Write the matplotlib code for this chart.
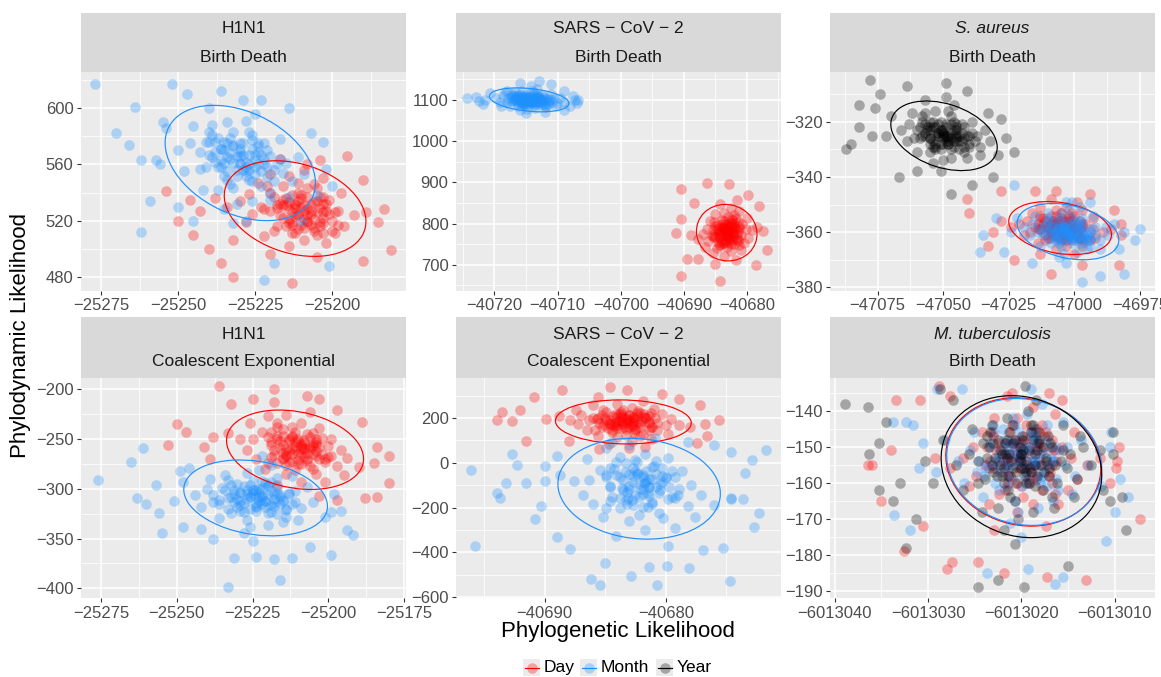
import numpy as np
import matplotlib
matplotlib.use("Agg")
import matplotlib.pyplot as plt
from matplotlib.patches import Ellipse, Rectangle

plt.rcParams['font.family'] = ['Liberation Sans', 'DejaVu Sans']

W, H, DPI = 1161, 677, 100

# ------------------------------------------------------------------ data
groups = ["Day", "Month", "Year"]
group_colors = {"Day": "#FF0000", "Month": "#1E90FF", "Year": "#000000"}
x_title = "Phylogenetic Likelihood"
y_title = "Phylodynamic Likelihood"

# ---- H1N1 / Birth Death
h1n1_bd_xticks = [-25275, -25250, -25225, -25200]
h1n1_bd_yticks = [480, 520, 560, 600]
h1n1_bd_day_x = [
    -25215, -25204, -25208, -25218, -25198, -25223, -25213, -25210, -25220, -25202,
    -25207, -25219, -25211, -25203, -25216, -25209, -25214, -25193, -25230, -25224,
    -25199, -25210, -25220, -25206, -25212, -25211, -25226, -25201, -25209, -25217,
    -25203, -25222, -25227, -25196, -25216, -25206, -25212, -25213, -25220, -25204,
    -25217, -25205, -25189, -25234, -25197, -25228, -25203, -25218, -25208, -25214,
    -25214, -25209, -25203, -25222, -25221, -25203, -25214, -25208, -25205, -25219,
    -25204, -25220, -25185, -25238, -25212, -25215, -25209, -25211, -25213, -25206,
    -25254, -25250, -25245, -25240, -25232, -25236, -25232, -25213, -25190, -25181,
    -25183, -25190, -25195, -25208, -25243, -25246,
    -25205, -25210, -25203, -25212, -25207, -25214, -25206, -25201, -25211, -25208,
    -25204, -25213, -25200, -25216, -25207, -25209, -25202, -25215, -25205, -25210,
    -25199, -25217, -25203, -25211, -25208, -25206, -25212, -25200, -25216, -25204,
    -25213, -25198, -25218, -25207, -25209, -25202, -25214, -25205, -25211, -25208]
h1n1_bd_day_y = [
    531, 519, 543, 516, 527, 530, 538, 517, 553, 504,
    527, 537, 524, 537, 522, 556, 502, 524, 534, 547,
    511, 536, 527, 533, 511, 547, 525, 535, 527, 532,
    550, 509, 539, 516, 545, 513, 532, 526, 540, 516,
    564, 494, 526, 530, 540, 519, 526, 529, 537, 518,
    552, 506, 532, 528, 545, 511, 533, 519, 543, 513,
    563, 496, 519, 536, 529, 536, 521, 540, 517, 546,
    541, 520, 510, 500, 506, 490, 480, 476, 491, 499,
    528, 549, 566, 560, 527, 535,
    526, 530, 518, 523, 532, 528, 515, 525, 534, 520,
    529, 519, 520, 531, 525, 515, 532, 516, 510, 538,
    526, 524, 522, 525, 528, 521, 531, 513, 535, 537,
    511, 517, 531, 517, 531, 527, 521, 534, 514, 524]
h1n1_bd_month_x = [
    -25229, -25235, -25218, -25241, -25227, -25232, -25223, -25238, -25214, -25245,
    -25230, -25226, -25233, -25221, -25236, -25209, -25250, -25228, -25231, -25220,
    -25239, -25224, -25234, -25225, -25243, -25216, -25237, -25222, -25231, -25228,
    -25211, -25248, -25226, -25234, -25219, -25240, -25227, -25232, -25223, -25237,
    -25205, -25254, -25225, -25235, -25217, -25242, -25230, -25231, -25222, -25238,
    -25213, -25246, -25224, -25233, -25220, -25240, -25227, -25236, -25217, -25243,
    -25202, -25257, -25229, -25232, -25230, -25225, -25235, -25221, -25239, -25215,
    -25277, -25264, -25270, -25262, -25266, -25256, -25259, -25247, -25252, -25236,
    -25223, -25214, -25207, -25203, -25201, -25222, -25262, -25250, -25245, -25210,
    -25200, -25255, -25240, -25228, -25219,
    -25227, -25232, -25225, -25234, -25229, -25236, -25228, -25223, -25233, -25230,
    -25226, -25235, -25222, -25238, -25229, -25231, -25224, -25237, -25227, -25232,
    -25220, -25240, -25225, -25233, -25230, -25228, -25234, -25221, -25239, -25226,
    -25235, -25219, -25241, -25228, -25232, -25224, -25236, -25226, -25234, -25230]
h1n1_bd_month_y = [
    556, 576, 560, 558, 583, 543, 555, 569, 537, 587,
    569, 548, 564, 570, 558, 553, 570, 591, 532, 535,
    588, 560, 549, 567, 569, 554, 542, 575, 566, 552,
    565, 555, 534, 590, 548, 576, 560, 561, 545, 579,
    538, 586, 596, 528, 578, 542, 575, 552, 564, 562,
    548, 575, 573, 546, 540, 583, 556, 571, 564, 557,
    557, 563, 606, 518, 560, 553, 570, 558, 565, 561,
    617, 601, 582, 563, 574, 560, 534, 610, 617, 612,
    606, 600, 582, 576, 488, 478, 512, 530, 520, 520,
    545, 590, 600, 520, 490,
    567, 573, 558, 565, 575, 571, 555, 567, 579, 561,
    571, 561, 560, 576, 567, 556, 575, 558, 549, 583,
    566, 567, 563, 568, 571, 562, 575, 551, 581, 581,
    552, 556, 576, 558, 574, 569, 563, 577, 555, 566]
# ellipse: centre x, centre y, half x-extent, half y-extent, tilt
h1n1_bd_day_ell = [-25212.0, 528.6, 23.0, 34.0, -0.27]
h1n1_bd_month_ell = [-25229.8, 561.0, 24.4, 41.0, -0.35]

# ---- SARS-CoV-2 / Birth Death
sars_bd_xticks = [-40720, -40710, -40700, -40690, -40680]
sars_bd_yticks = [700, 800, 900, 1000, 1100]
sars_bd_day_x = [
    -40683.8, -40681.6, -40682.4, -40684.4, -40680.2, -40685.6, -40683.4, -40682.8, -40685.0, -40681.0,
    -40682.2, -40684.6, -40683.0, -40681.4, -40684.0, -40682.6, -40683.6, -40679.2, -40687.0, -40685.8,
    -40680.4, -40682.8, -40685.0, -40682.0, -40683.2, -40683.0, -40686.2, -40680.8, -40682.6, -40684.2,
    -40681.2, -40685.4, -40686.4, -40679.8, -40684.0, -40682.0, -40683.2, -40683.4, -40684.8, -40681.4,
    -40684.2, -40681.8, -40678.4, -40687.8, -40680.0, -40686.6, -40681.4, -40684.4, -40682.3, -40683.7,
    -40683.6, -40682.6, -40681.2, -40685.4, -40685.2, -40681.2, -40683.6, -40682.4, -40681.8, -40684.7,
    -40681.6, -40685.0, -40677.4, -40688.8, -40683.3, -40683.8, -40682.5, -40683.0, -40683.4, -40682.0,
    -40690.4, -40686.3, -40682.9, -40690.4, -40691.3, -40689.5, -40690.4, -40684.2, -40676.8, -40678.1,
    -40679.8, -40688.4, -40678.6, -40687.7,
    -40682.6, -40683.6, -40682.2, -40684.0, -40683.0, -40684.4, -40682.8, -40681.8, -40683.8, -40683.2,
    -40682.4, -40684.2, -40681.6, -40684.8, -40683.0, -40683.4, -40682.0, -40684.6, -40682.6, -40683.6,
    -40681.2, -40685.2, -40682.2, -40683.8, -40683.2, -40682.8, -40684.0, -40681.4, -40685.0, -40682.4,
    -40684.2, -40681.0, -40685.4, -40682.9, -40683.5, -40682.0, -40684.4, -40682.5, -40683.9, -40683.1]
sars_bd_day_y = [
    781, 764, 812, 747, 786, 772, 798, 756, 823, 736,
    778, 789, 770, 803, 761, 837, 722, 784, 775, 806,
    753, 795, 767, 792, 742, 817, 758, 800, 777, 782,
    831, 728, 788, 765, 809, 750, 785, 771, 796, 758,
    848, 711, 791, 763, 814, 744, 779, 774, 799, 754,
    826, 733, 793, 768, 805, 749, 786, 761, 813, 740,
    856, 702, 781, 772, 778, 792, 764, 802, 753, 820,
    883, 899, 896, 810, 778, 714, 674, 661, 735, 843,
    870, 851, 700, 714,
    784, 789, 770, 772, 795, 781, 761, 786, 798, 770,
    792, 764, 775, 786, 781, 758, 800, 756, 750, 806,
    789, 770, 778, 778, 786, 772, 789, 761, 795, 809,
    747, 772, 784, 765, 791, 789, 767, 802, 754, 778]
sars_bd_month_x = [
    -40714.2, -40715.8, -40711.4, -40717.4, -40713.7, -40715.0, -40712.7, -40716.6, -40710.3, -40718.4,
    -40714.5, -40713.5, -40715.3, -40712.2, -40716.1, -40709.0, -40719.7, -40714.0, -40714.8, -40711.9,
    -40716.8, -40712.9, -40715.5, -40713.2, -40717.9, -40710.9, -40716.3, -40712.4, -40714.6, -40714.1,
    -40709.6, -40719.2, -40713.6, -40715.7, -40711.6, -40717.1, -40713.8, -40715.2, -40712.8, -40716.3,
    -40708.0, -40720.7, -40713.3, -40715.9, -40711.1, -40717.6, -40714.4, -40714.9, -40712.5, -40716.7,
    -40710.1, -40718.7, -40713.1, -40715.4, -40712.0, -40717.2, -40713.7, -40716.1, -40711.2, -40718.0,
    -40707.2, -40721.5, -40714.2, -40715.0, -40714.5, -40713.2, -40715.8, -40712.3, -40716.8, -40710.6,
    -40724.3, -40723.0, -40722.5, -40721.8, -40707.0, -40706.8, -40707.5, -40713.0, -40716.0, -40711.0,
    -40719.0, -40712.0, -40709.0, -40718.0, -40709.0,
    -40713.7, -40715.0, -40713.2, -40715.5, -40714.2, -40716.1, -40714.0, -40712.7, -40715.3, -40714.5,
    -40713.5, -40715.8, -40712.4, -40716.6, -40714.2, -40714.8, -40712.9, -40716.3, -40713.7, -40715.0,
    -40711.9, -40717.1, -40713.2, -40715.3, -40714.5, -40714.0, -40715.5, -40712.2, -40716.8, -40713.5,
    -40715.8, -40711.6, -40717.4, -40714.1, -40714.9, -40712.9, -40716.1, -40713.6, -40715.4, -40714.4]
sars_bd_month_y = [
    1096, 1111, 1100, 1097, 1116, 1087, 1096, 1105, 1084, 1118,
    1106, 1091, 1102, 1107, 1098, 1096, 1105, 1122, 1079, 1082,
    1119, 1100, 1091, 1105, 1105, 1096, 1085, 1111, 1103, 1094,
    1105, 1094, 1080, 1121, 1091, 1110, 1099, 1100, 1089, 1113,
    1085, 1117, 1126, 1076, 1114, 1085, 1110, 1094, 1102, 1100,
    1092, 1109, 1109, 1089, 1085, 1115, 1097, 1107, 1103, 1096,
    1099, 1099, 1133, 1069, 1099, 1095, 1106, 1098, 1102, 1101,
    1104, 1108, 1098, 1090, 1093, 1100, 1110, 1145, 1140, 1138,
    1085, 1070, 1075, 1122, 1121,
    1101, 1105, 1095, 1099, 1106, 1103, 1092, 1101, 1109, 1097,
    1104, 1096, 1096, 1106, 1101, 1092, 1107, 1093, 1088, 1112,
    1101, 1100, 1098, 1101, 1103, 1097, 1106, 1090, 1110, 1111,
    1089, 1094, 1106, 1094, 1106, 1102, 1098, 1108, 1092, 1100]
sars_bd_day_ell = [-40683.2, 778.0, 4.8, 68.5, -0.05]
sars_bd_month_ell = [-40714.5, 1100.0, 6.3, 29.0, -0.30]

# ---- S. aureus / Birth Death
saur_bd_xticks = [-47075, -47050, -47025, -47000, -46975]
saur_bd_yticks = [-380, -360, -340, -320]
saur_bd_day_x = [
    -47008, -46999, -47002, -47010, -46993, -47015, -47006, -47004, -47013, -46997,
    -47001, -47011, -47005, -46998, -47009, -47003, -47007, -46989, -47021, -47016,
    -46994, -47004, -47013, -47001, -47005, -47005, -47017, -46996, -47003, -47009,
    -46997, -47014, -47018, -46992, -47009, -47001, -47005, -47006, -47012, -46998,
    -47009, -47000, -46986, -47024, -46993, -47019, -46998, -47010, -47002, -47007,
    -47007, -47003, -46997, -47014, -47013, -46997, -47007, -47002, -47000, -47011,
    -46999, -47013, -46982, -47028, -47006, -47008, -47003, -47005, -47006, -47001,
    -47040, -47041, -47033, -47023, -47009, -46997, -46983, -46985, -47007, -46994,
    -47015, -47028, -47031, -46982,
    -47003, -47007, -47001, -47009, -47005, -47010, -47004, -47000, -47008, -47005,
    -47002, -47009, -46999, -47012, -47005, -47006, -47001, -47011, -47003, -47007,
    -46997, -47013, -47001, -47008, -47005, -47004, -47009, -46998, -47013, -47002,
    -47009, -46997, -47014, -47004, -47007, -47001, -47010, -47003, -47008, -47005]
saur_bd_day_y = [
    -358, -361, -354, -362, -359, -358, -356, -362, -351, -365,
    -359, -356, -360, -356, -360, -351, -366, -360, -357, -353,
    -363, -356, -359, -357, -363, -353, -360, -357, -359, -357,
    -352, -364, -356, -362, -354, -363, -358, -359, -355, -362,
    -348, -368, -359, -358, -355, -361, -359, -358, -356, -361,
    -352, -365, -357, -359, -354, -363, -357, -361, -354, -363,
    -349, -368, -361, -356, -358, -356, -361, -355, -362, -353,
    -353, -348, -365, -370, -375, -372, -372, -352, -345, -346,
    -345, -345, -360, -357,
    -358, -357, -360, -359, -356, -358, -361, -358, -356, -360,
    -357, -360, -360, -357, -358, -361, -356, -361, -363, -354,
    -358, -359, -359, -358, -357, -359, -357, -362, -355, -355,
    -362, -360, -357, -360, -357, -358, -359, -356, -361, -359]
saur_bd_month_x = [
    -47003, -46998, -47012, -46994, -47005, -47001, -47008, -46996, -47015, -46990,
    -47002, -47006, -47000, -47010, -46998, -47019, -46987, -47004, -47002, -47010,
    -46995, -47007, -46999, -47006, -46992, -47014, -46997, -47009, -47002, -47004,
    -47017, -46988, -47005, -46999, -47011, -46994, -47004, -47000, -47008, -46997,
    -47022, -46983, -47006, -46998, -47013, -46993, -47003, -47001, -47008, -46996,
    -47016, -46990, -47007, -47000, -47010, -46994, -47005, -46998, -47012, -46992,
    -47024, -46981, -47003, -47001, -47002, -47006, -46998, -47009, -46995, -47014,
    -47036, -47035, -47027, -47016, -46997, -46990, -46981, -46975, -46977, -46985,
    -47023, -47030, -47003, -46994,
    -47005, -47001, -47006, -46999, -47003, -46998, -47004, -47008, -47000, -47002,
    -47006, -46998, -47009, -46996, -47003, -47002, -47007, -46997, -47005, -47001,
    -47010, -46994, -47006, -47000, -47002, -47004, -46999, -47010, -46995, -47006,
    -46998, -47011, -46994, -47004, -47001, -47007, -46998, -47005, -47000, -47003]
saur_bd_month_y = [
    -358, -364, -360, -359, -365, -355, -358, -362, -354, -366,
    -362, -356, -361, -362, -359, -358, -361, -368, -352, -353,
    -366, -360, -357, -362, -361, -358, -355, -364, -361, -358,
    -361, -358, -353, -367, -357, -363, -360, -360, -356, -364,
    -355, -366, -369, -351, -365, -354, -363, -358, -361, -360,
    -357, -363, -363, -356, -355, -365, -359, -362, -361, -358,
    -360, -360, -371, -349, -360, -358, -362, -359, -361, -360,
    -367, -361, -367, -371, -378, -376, -375, -359, -363, -357,
    -343, -355, -349, -349,
    -360, -362, -358, -360, -362, -361, -357, -360, -363, -359,
    -361, -358, -358, -362, -360, -357, -362, -357, -355, -364,
    -360, -360, -359, -360, -361, -359, -362, -356, -363, -364,
    -356, -358, -362, -358, -362, -361, -359, -363, -357, -360]
saur_bd_year_x = [
    -47049, -47054, -47040, -47059, -47047, -47051, -47044, -47056, -47036, -47062,
    -47050, -47046, -47052, -47042, -47055, -47032, -47066, -47048, -47050, -47041,
    -47057, -47045, -47053, -47045, -47060, -47038, -47055, -47043, -47050, -47048,
    -47034, -47064, -47047, -47053, -47040, -47058, -47048, -47052, -47044, -47055,
    -47029, -47070, -47046, -47054, -47039, -47060, -47049, -47051, -47043, -47057,
    -47036, -47063, -47045, -47053, -47042, -47058, -47047, -47055, -47039, -47061,
    -47026, -47072, -47049, -47051, -47050, -47046, -47054, -47042, -47057, -47037,
    -47078, -47087, -47085, -47082, -47082, -47074, -47064, -47049, -47057, -47067,
    -47060, -47047, -47039, -47031, -47023, -47028, -47033, -47077, -47076, -47041,
    -47047, -47051, -47045, -47053, -47049, -47055, -47048, -47044, -47052, -47050,
    -47046, -47054, -47043, -47056, -47049, -47050, -47045, -47055, -47047, -47051,
    -47041, -47058, -47045, -47052, -47050, -47048, -47053, -47042, -47057, -47046,
    -47054, -47040, -47059, -47048, -47051, -47045, -47055, -47047, -47053, -47049]
saur_bd_year_y = [
    -327, -320, -325, -326, -318, -330, -327, -323, -332, -317,
    -323, -329, -324, -322, -326, -327, -323, -316, -334, -333,
    -317, -325, -329, -323, -323, -327, -331, -321, -324, -328,
    -323, -327, -333, -316, -329, -320, -325, -325, -330, -320,
    -332, -318, -314, -335, -320, -331, -321, -328, -324, -325,
    -329, -321, -321, -330, -331, -318, -326, -322, -324, -326,
    -326, -325, -311, -338, -325, -327, -322, -326, -324, -325,
    -305, -330, -328, -322, -314, -310, -307, -306, -312, -340,
    -338, -346, -343, -340, -331, -319, -317, -325, -315, -309,
    -324, -323, -327, -325, -322, -323, -328, -325, -321, -326,
    -323, -327, -327, -322, -325, -328, -322, -328, -330, -320,
    -325, -325, -326, -324, -324, -326, -322, -329, -321, -320,
    -329, -328, -322, -327, -323, -324, -326, -321, -328, -325]
saur_bd_day_ell = [-47005.4, -358.5, 19.6, 9.6, -0.25]
saur_bd_month_ell = [-47002.4, -359.8, 19.4, 10.2, -0.30]
saur_bd_year_ell = [-47049.7, -325.1, 20.3, 12.6, -0.33]

# ---- H1N1 / Coalescent Exponential
h1n1_ce_xticks = [-25275, -25250, -25225, -25200, -25175]
h1n1_ce_yticks = [-400, -350, -300, -250, -200]
h1n1_ce_day_x = [
    -25208, -25218, -25215, -25205, -25225, -25200, -25210, -25213, -25203, -25221,
    -25216, -25205, -25212, -25219, -25207, -25214, -25209, -25229, -25194, -25199,
    -25224, -25213, -25203, -25217, -25211, -25212, -25197, -25222, -25214, -25206,
    -25220, -25201, -25196, -25227, -25207, -25217, -25211, -25210, -25204, -25219,
    -25206, -25217, -25233, -25190, -25226, -25195, -25219, -25205, -25215, -25209,
    -25209, -25214, -25220, -25201, -25202, -25220, -25209, -25215, -25217, -25204,
    -25218, -25203, -25238, -25185, -25211, -25208, -25214, -25212, -25210, -25217,
    -25236, -25218, -25250, -25253, -25247, -25241, -25239, -25180, -25180, -25184,
    -25188, -25197, -25184, -25189, -25197, -25207, -25203, -25225, -25232,
    -25206, -25211, -25204, -25213, -25208, -25215, -25207, -25203, -25212, -25209,
    -25205, -25214, -25202, -25216, -25208, -25210, -25204, -25215, -25206, -25211,
    -25200, -25218, -25204, -25212, -25209, -25207, -25213, -25201, -25217, -25205,
    -25214, -25199, -25219, -25208, -25210, -25204, -25215, -25206, -25212, -25209]
h1n1_ce_day_y = [
    -260, -266, -240, -280, -250, -268, -250, -273, -239, -280,
    -259, -257, -265, -243, -272, -226, -293, -250, -269, -250,
    -270, -250, -270, -250, -281, -238, -277, -243, -260, -260,
    -227, -293, -261, -261, -245, -274, -257, -265, -253, -268,
    -223, -296, -244, -278, -234, -286, -256, -265, -247, -275,
    -234, -285, -248, -270, -249, -274, -257, -269, -238, -285,
    -213, -307, -248, -274, -261, -254, -267, -247, -275, -234,
    -197, -200, -235, -256, -243, -258, -270, -267, -294, -308,
    -309, -311, -258, -233, -221, -207, -210, -210, -215,
    -258, -253, -267, -262, -251, -256, -270, -258, -248, -265,
    -254, -266, -265, -252, -259, -271, -250, -270, -277, -243,
    -257, -261, -262, -259, -255, -264, -252, -273, -247, -244,
    -276, -267, -253, -268, -252, -256, -264, -248, -272, -260]
h1n1_ce_month_x = [
    -25225, -25219, -25236, -25213, -25227, -25222, -25231, -25216, -25239, -25210,
    -25224, -25228, -25221, -25233, -25218, -25244, -25205, -25226, -25223, -25234,
    -25215, -25230, -25220, -25229, -25211, -25238, -25217, -25232, -25224, -25225,
    -25242, -25207, -25227, -25220, -25235, -25214, -25226, -25222, -25230, -25217,
    -25248, -25201, -25228, -25219, -25236, -25212, -25224, -25223, -25231, -25216,
    -25240, -25209, -25229, -25221, -25233, -25214, -25227, -25218, -25236, -25211,
    -25251, -25198, -25225, -25222, -25224, -25229, -25219, -25232, -25215, -25238,
    -25276, -25265, -25261, -25263, -25260, -25256, -25255, -25257, -25248, -25242,
    -25238, -25231, -25224, -25218, -25216, -25233, -25212, -25206, -25199, -25194,
    -25192, -25196, -25199, -25249, -25246,
    -25220, -25225, -25218, -25227, -25222, -25229, -25221, -25216, -25226, -25223,
    -25219, -25228, -25215, -25231, -25222, -25224, -25217, -25230, -25220, -25225,
    -25213, -25233, -25218, -25226, -25223, -25221, -25227, -25214, -25232, -25219,
    -25228, -25212, -25234, -25222, -25224, -25217, -25229, -25220, -25226, -25223]
h1n1_ce_month_y = [
    -304, -323, -311, -304, -331, -292, -305, -315, -290, -331,
    -317, -297, -312, -320, -305, -306, -313, -338, -281, -286,
    -333, -310, -297, -316, -313, -306, -289, -324, -314, -301,
    -318, -298, -284, -336, -299, -321, -308, -308, -295, -325,
    -293, -328, -344, -276, -329, -287, -322, -300, -313, -308,
    -300, -319, -322, -294, -291, -328, -305, -317, -315, -302,
    -312, -305, -352, -267, -308, -303, -316, -308, -311, -313,
    -291, -273, -259, -309, -315, -324, -344, -296, -338, -340,
    -350, -370, -368, -371, -392, -399, -369, -358, -366, -341,
    -346, -322, -323, -282, -279,
    -306, -301, -314, -310, -299, -304, -318, -306, -296, -312,
    -302, -314, -312, -301, -307, -318, -298, -318, -324, -292,
    -305, -309, -310, -307, -303, -312, -301, -320, -296, -293,
    -323, -315, -301, -315, -301, -304, -312, -296, -320, -308]
h1n1_ce_day_ell = [-25211.0, -260.7, 22.6, 39.9, -0.23]
h1n1_ce_month_ell = [-25224.0, -309.1, 23.7, 38.1, -0.22]

# ---- SARS-CoV-2 / Coalescent Exponential
sars_ce_xticks = [-40690, -40680]
sars_ce_yticks = [-600, -400, -200, 0, 200]
sars_ce_day_x = [
    -40684.2, -40681.7, -40682.6, -40684.9, -40680.0, -40686.3, -40683.7, -40683.0, -40685.6, -40681.0,
    -40682.3, -40685.1, -40683.3, -40681.4, -40684.4, -40682.8, -40684.0, -40678.9, -40687.9, -40686.5,
    -40680.3, -40683.0, -40685.6, -40682.1, -40683.5, -40683.3, -40687.0, -40680.7, -40682.8, -40684.7,
    -40681.2, -40686.0, -40687.2, -40679.6, -40684.4, -40682.1, -40683.5, -40683.7, -40685.3, -40681.4,
    -40684.7, -40681.9, -40678.0, -40688.8, -40679.8, -40687.4, -40681.4, -40684.9, -40682.5, -40684.1,
    -40684.0, -40682.8, -40681.2, -40686.0, -40685.8, -40681.2, -40684.0, -40682.6, -40681.9, -40685.2,
    -40681.7, -40685.6, -40676.8, -40689.9, -40683.6, -40684.2, -40682.7, -40683.3, -40683.7, -40682.1,
    -40693.9, -40693.5, -40692.7, -40690.9, -40688.6, -40684.6, -40683.2, -40680.3, -40678.9, -40677.2,
    -40675.6, -40676.6, -40677.4, -40683.0, -40685.5, -40691.5, -40692.0, -40688.0,
    -40682.5, -40683.7, -40682.1, -40684.1, -40683.0, -40684.6, -40682.7, -40681.6, -40683.9, -40683.2,
    -40682.3, -40684.4, -40681.4, -40685.0, -40683.0, -40683.4, -40681.8, -40684.8, -40682.5, -40683.7,
    -40680.9, -40685.5, -40682.0, -40683.9, -40683.2, -40682.7, -40684.1, -40681.1, -40685.3, -40682.3,
    -40684.4, -40680.7, -40685.7, -40682.9, -40683.5, -40681.8, -40684.6, -40682.4, -40684.0, -40683.1]
sars_ce_day_y = [
    179, 201, 134, 228, 168, 193, 155, 214, 121, 241,
    182, 168, 194, 145, 207, 98, 263, 171, 190, 145,
    216, 158, 200, 161, 235, 126, 214, 148, 184, 178,
    105, 257, 172, 197, 139, 221, 173, 193, 158, 209,
    84, 277, 160, 209, 128, 234, 179, 190, 152, 217,
    115, 246, 159, 199, 147, 223, 171, 206, 131, 238,
    69, 293, 173, 196, 183, 163, 202, 149, 219, 122,
    192, 229, 187, 293, 326, 340, 326, 307, 285, 259,
    192, 119, 89, 68, 60, 97, 237, 96,
    195, 204, 175, 181, 212, 193, 164, 199, 217, 176,
    207, 169, 182, 202, 192, 160, 219, 157, 147, 228,
    202, 178, 187, 189, 200, 180, 205, 162, 214, 231,
    145, 178, 198, 170, 206, 203, 173, 221, 155, 188]
sars_ce_month_x = [
    -40681.4, -40684.4, -40683.3, -40680.6, -40686.3, -40679.0, -40681.9, -40682.7, -40679.8, -40685.2,
    -40683.6, -40680.3, -40682.5, -40684.6, -40681.1, -40683.0, -40681.7, -40687.6, -40677.1, -40678.7,
    -40686.0, -40682.7, -40679.8, -40683.8, -40682.2, -40682.5, -40678.2, -40685.4, -40683.0, -40680.8,
    -40684.9, -40679.2, -40677.9, -40686.8, -40681.1, -40683.8, -40682.2, -40681.9, -40680.0, -40684.6,
    -40680.9, -40684.1, -40688.7, -40676.0, -40686.5, -40677.6, -40684.6, -40680.6, -40683.4, -40681.5,
    -40681.7, -40683.0, -40684.9, -40679.2, -40679.5, -40684.9, -40681.7, -40683.3, -40684.1, -40680.2,
    -40684.4, -40679.8, -40690.0, -40674.6, -40682.1, -40681.4, -40683.1, -40682.5, -40681.9, -40683.8,
    -40696.1, -40695.7, -40693.9, -40693.7, -40693.2, -40692.7, -40692.3, -40691.5, -40690.8, -40690.3,
    -40689.0, -40687.9, -40686.2, -40685.4, -40685.0, -40682.9, -40681.4, -40680.7, -40679.9, -40678.1,
    -40676.9, -40675.3, -40674.7, -40674.6, -40673.5, -40672.9, -40671.7, -40672.3, -40672.7, -40673.6,
    -40674.6, -40676.0, -40678.2, -40690.0, -40689.0,
    -40681.1, -40682.4, -40680.5, -40683.0, -40681.6, -40683.5, -40681.4, -40680.0, -40682.7, -40681.9,
    -40680.8, -40683.2, -40679.7, -40684.1, -40681.6, -40682.2, -40680.3, -40683.8, -40681.1, -40682.4,
    -40679.2, -40684.6, -40680.5, -40682.7, -40681.9, -40681.4, -40683.0, -40679.5, -40684.3, -40680.8,
    -40683.2, -40678.9, -40684.9, -40681.5, -40682.3, -40680.3, -40683.5, -40681.0, -40682.8, -40681.8]
sars_ce_month_y = [
    -109, -154, -2, -222, -75, -145, -53, -187, 23, -243,
    -111, -85, -142, -25, -174, 79, -301, -80, -142, -36,
    -186, -59, -161, -65, -235, 13, -193, -32, -118, -107,
    67, -290, -98, -142, -19, -202, -93, -140, -64, -172,
    109, -329, -53, -187, 18, -241, -103, -135, -43, -196,
    38, -260, -56, -158, -38, -203, -90, -167, 5, -246,
    95, -371, -80, -159, -116, -73, -158, -37, -199, 27,
    -33, -373, -133, -158, -92, 40, -10, -92, -252, -195,
    -331, -385, -519, -545, -446, -504, -467, -548, -460, -470,
    -390, -382, -526, -160, -44, 14, 59, -225, -285, -160,
    50, 79, 93, -15, 30,
    -74, -52, -122, -105, -36, -75, -147, -69, -23, -117,
    -48, -131, -106, -55, -82, -153, -22, -157, -184, 3,
    -62, -108, -94, -87, -62, -110, -50, -153, -27, 7,
    -186, -118, -62, -133, -47, -59, -121, -15, -165, -90]
sars_ce_day_ell = [-40683.5, 182.7, 5.6, 98.3, -0.05]
sars_ce_month_ell = [-40682.2, -115.8, 6.7, 225.1, -0.10]

# ---- M. tuberculosis / Birth Death
mtb_bd_xticks = [-6013040, -6013030, -6013020, -6013010]
mtb_bd_yticks = [-190, -180, -170, -160, -150, -140]
mtb_bd_day_x = [
    -6013020.8, -6013017.1, -6013018.4, -6013021.8, -6013014.7, -6013023.9, -6013020.1, -6013019.1, -6013022.9, -6013016.1,
    -6013018.1, -6013022.2, -6013019.5, -6013016.7, -6013021.2, -6013018.8, -6013020.5, -6013013.0, -6013026.3, -6013024.2,
    -6013015.0, -6013019.1, -6013022.9, -6013017.8, -6013019.8, -6013019.5, -6013024.9, -6013015.7, -6013018.8, -6013021.5,
    -6013016.4, -6013023.5, -6013025.2, -6013014.0, -6013021.2, -6013017.8, -6013019.8, -6013020.1, -6013022.5, -6013016.7,
    -6013021.5, -6013017.4, -6013011.6, -6013027.6, -6013014.4, -6013025.6, -6013016.7, -6013021.8, -6013018.3, -6013020.7,
    -6013020.5, -6013018.8, -6013016.4, -6013023.5, -6013023.2, -6013016.4, -6013020.5, -6013018.4, -6013017.4, -6013022.4,
    -6013017.1, -6013022.9, -6013009.9, -6013029.3, -6013020.0, -6013020.8, -6013018.6, -6013019.5, -6013020.1, -6013017.8,
    -6013036.4, -6013033.4, -6013030.9, -6013028.8, -6013027.7, -6013032.6, -6013030.5, -6013028.0, -6013027.4, -6013024.7,
    -6013021.9, -6013017.3, -6013013.1, -6013007.3, -6013009.8, -6013009.6, -6013010.5, -6013015.7, -6013021.0, -6013036.0,
    -6013034.0, -6013035.0,
    -6013021.0, -6013019.3, -6013021.7, -6013018.6, -6013020.3, -6013018.0, -6013020.7, -6013022.4, -6013019.0, -6013020.0,
    -6013021.4, -6013018.3, -6013022.7, -6013017.3, -6013020.3, -6013019.7, -6013022.0, -6013017.6, -6013021.0, -6013019.3,
    -6013023.4, -6013016.6, -6013021.7, -6013019.0, -6013020.0, -6013020.7, -6013018.6, -6013023.1, -6013016.9, -6013021.4,
    -6013018.3, -6013023.7, -6013016.3, -6013020.5, -6013019.5, -6013022.0, -6013018.0, -6013021.2, -6013018.8, -6013020.2]
mtb_bd_day_y = [
    -153, -158, -146, -162, -153, -155, -149, -160, -142, -166,
    -155, -151, -156, -148, -158, -139, -168, -155, -153, -146,
    -162, -150, -156, -151, -164, -144, -158, -150, -155, -153,
    -141, -166, -150, -159, -146, -162, -152, -156, -149, -160,
    -136, -172, -153, -156, -146, -161, -155, -155, -149, -160,
    -142, -166, -151, -156, -146, -163, -152, -159, -146, -163,
    -135, -173, -156, -153, -154, -150, -158, -148, -161, -144,
    -155, -137, -137, -133, -136, -179, -172, -184, -182, -182,
    -185, -186, -187, -170, -154, -150, -160, -137, -135, -155,
    -151, -165,
    -153, -155, -149, -151, -156, -153, -148, -154, -157, -150,
    -155, -149, -151, -155, -153, -147, -157, -147, -144, -159,
    -154, -151, -152, -152, -154, -150, -155, -147, -157, -160,
    -145, -150, -154, -149, -155, -154, -150, -158, -146, -152]
mtb_bd_month_x = [
    -6013020.0, -6013018.0, -6013023.8, -6013016.0, -6013020.7, -6013019.0, -6013022.1, -6013017.0, -6013025.1, -6013014.6,
    -6013019.7, -6013021.1, -6013018.7, -6013022.8, -6013017.7, -6013026.8, -6013012.9, -6013020.4, -6013019.4, -6013023.1,
    -6013016.6, -6013021.7, -6013018.3, -6013021.4, -6013015.3, -6013024.5, -6013017.3, -6013022.4, -6013019.5, -6013020.2,
    -6013026.2, -6013013.6, -6013020.9, -6013018.2, -6013023.4, -6013016.3, -6013020.6, -6013018.8, -6013021.9, -6013017.3,
    -6013028.2, -6013011.5, -6013021.2, -6013017.8, -6013024.1, -6013015.6, -6013019.9, -6013019.2, -6013022.3, -6013016.8,
    -6013025.5, -6013014.3, -6013021.6, -6013018.5, -6013022.9, -6013016.1, -6013020.7, -6013017.7, -6013024.0, -6013015.1,
    -6013029.2, -6013010.5, -6013020.0, -6013019.0, -6013019.7, -6013021.4, -6013018.0, -6013022.6, -6013016.6, -6013024.8,
    -6013033.8, -6013032.4, -6013031.6, -6013033.7, -6013031.9, -6013029.0, -6013026.4, -6013023.7, -6013019.3, -6013016.4,
    -6013015.5, -6013009.5, -6013008.6, -6013011.0, -6013010.0, -6013010.4, -6013030.5, -6013031.0,
    -6013019.3, -6013018.6, -6013021.0, -6013020.7, -6013018.0, -6013019.7, -6013022.0, -6013019.0, -6013017.6, -6013021.0,
    -6013018.3, -6013021.7, -6013020.3, -6013019.0, -6013019.7, -6013022.4, -6013017.3, -6013022.7, -6013023.4, -6013016.6,
    -6013018.6, -6013021.0, -6013020.0, -6013020.0, -6013019.0, -6013020.7, -6013018.6, -6013022.0, -6013018.0, -6013016.3,
    -6013023.7, -6013020.7, -6013019.3, -6013021.5, -6013018.5, -6013018.6, -6013021.4, -6013017.1, -6013022.9, -6013020.0]
mtb_bd_month_y = [
    -152, -160, -156, -151, -165, -146, -153, -156, -146, -163,
    -158, -149, -155, -160, -152, -154, -155, -168, -141, -144,
    -165, -155, -148, -158, -155, -154, -144, -162, -156, -150,
    -160, -148, -142, -167, -150, -159, -154, -154, -148, -161,
    -148, -161, -171, -138, -164, -143, -161, -150, -157, -153,
    -151, -158, -161, -147, -146, -162, -152, -158, -158, -150,
    -157, -150, -175, -134, -154, -152, -157, -154, -154, -157,
    -143, -143, -144, -169, -173, -134, -134, -185, -184, -188,
    -186, -159, -164, -176, -168, -146, -149, -156,
    -150, -154, -148, -155, -152, -156, -150, -147, -155, -152,
    -150, -155, -146, -158, -151, -152, -148, -156, -149, -154,
    -145, -159, -148, -154, -152, -150, -155, -145, -159, -150,
    -155, -144, -160, -150, -154, -148, -156, -150, -154, -152]
mtb_bd_year_x = [
    -6013019.6, -6013021.8, -6013015.8, -6013023.9, -6013019.0, -6013020.7, -6013017.6, -6013022.8, -6013014.4, -6013025.3,
    -6013020.0, -6013018.6, -6013021.1, -6013016.9, -6013022.1, -6013012.6, -6013027.0, -6013019.3, -6013020.4, -6013016.5,
    -6013023.2, -6013017.9, -6013021.4, -6013018.3, -6013024.6, -6013015.1, -6013022.5, -6013017.2, -6013020.2, -6013019.5,
    -6013013.4, -6013026.3, -6013018.8, -6013021.6, -6013016.2, -6013023.5, -6013019.1, -6013020.9, -6013017.7, -6013022.5,
    -6013011.3, -6013028.4, -6013018.4, -6013021.9, -6013015.5, -6013024.2, -6013019.8, -6013020.5, -6013017.4, -6013023.0,
    -6013014.1, -6013025.6, -6013018.1, -6013021.2, -6013016.7, -6013023.7, -6013019.0, -6013022.1, -6013015.6, -6013024.7,
    -6013010.2, -6013029.5, -6013019.6, -6013020.7, -6013020.0, -6013018.3, -6013021.8, -6013017.0, -6013023.2, -6013014.8,
    -6013038.9, -6013036.4, -6013034.5, -6013035.3, -6013036.3, -6013035.2, -6013033.8, -6013033.0, -6013032.4, -6013031.3,
    -6013030.3, -6013024.6, -6013022.5, -6013019.7, -6013015.0, -6013008.8, -6013009.2, -6013010.2, -6013011.6, -6013028.7,
    -6013027.3, -6013013.7, -6013010.5,
    -6013019.2, -6013020.9, -6013018.5, -6013021.6, -6013019.9, -6013022.3, -6013019.5, -6013017.7, -6013021.3, -6013020.2,
    -6013018.8, -6013021.9, -6013017.4, -6013023.0, -6013019.8, -6013020.6, -6013018.1, -6013022.6, -6013019.2, -6013020.9,
    -6013016.7, -6013023.7, -6013018.5, -6013021.3, -6013020.2, -6013019.5, -6013021.6, -6013017.1, -6013023.4, -6013018.8,
    -6013021.9, -6013016.4, -6013024.1, -6013019.7, -6013020.7, -6013018.1, -6013022.3, -6013019.0, -6013021.4, -6013020.0]
mtb_bd_year_y = [
    -158, -149, -154, -159, -144, -165, -157, -153, -164, -145,
    -152, -161, -154, -149, -158, -155, -155, -140, -170, -167,
    -144, -155, -162, -151, -154, -156, -167, -147, -153, -160,
    -150, -162, -168, -142, -160, -150, -156, -156, -162, -148,
    -162, -148, -137, -173, -144, -168, -148, -160, -153, -157,
    -159, -152, -148, -164, -164, -147, -157, -152, -151, -160,
    -152, -160, -133, -177, -156, -158, -152, -156, -155, -152,
    -138, -139, -143, -149, -152, -162, -165, -160, -178, -170,
    -154, -189, -187, -189, -183, -173, -164, -146, -151, -134,
    -137, -147, -165,
    -151, -149, -155, -153, -147, -151, -157, -150, -146, -154,
    -148, -156, -154, -149, -151, -157, -146, -158, -160, -144,
    -150, -153, -152, -152, -150, -154, -148, -158, -146, -144,
    -160, -155, -149, -156, -148, -149, -155, -146, -158, -152]
mtb_bd_day_ell = [-6013019.8, -154.2, 8.3, 17.8, -0.10]
mtb_bd_month_ell = [-6013019.7, -154.2, 8.3, 17.6, -0.10]
mtb_bd_year_ell = [-6013020.0, -155.5, 8.6, 19.7, -0.12]

# ------------------------------------------------------------------ layout
panels = [
    dict(strip=("H1N1", "Birth Death"), italic=False,
         series=[("Day", h1n1_bd_day_x, h1n1_bd_day_y, h1n1_bd_day_ell),
                 ("Month", h1n1_bd_month_x, h1n1_bd_month_y, h1n1_bd_month_ell)],
         xticks=h1n1_bd_xticks, yticks=h1n1_bd_yticks,
         xlim=(-25281.5, -25176.0), ylim=(470.0, 625.7), col=0, row=0),
    dict(strip=("SARS \u2212 CoV \u2212 2", "Birth Death"), italic=False,
         series=[("Day", sars_bd_day_x, sars_bd_day_y, sars_bd_day_ell),
                 ("Month", sars_bd_month_x, sars_bd_month_y, sars_bd_month_ell)],
         xticks=sars_bd_xticks, yticks=sars_bd_yticks,
         xlim=(-40726.1, -40674.6), ylim=(636.5, 1167.6), col=1, row=0),
    dict(strip=("S. aureus", "Birth Death"), italic=True,
         series=[("Day", saur_bd_day_x, saur_bd_day_y, saur_bd_day_ell),
                 ("Month", saur_bd_month_x, saur_bd_month_y, saur_bd_month_ell),
                 ("Year", saur_bd_year_x, saur_bd_year_y, saur_bd_year_ell)],
         xticks=saur_bd_xticks, yticks=saur_bd_yticks,
         xlim=(-47093.2, -46969.2), ylim=(-381.3, -302.0), col=2, row=0),
    dict(strip=("H1N1", "Coalescent Exponential"), italic=False,
         series=[("Day", h1n1_ce_day_x, h1n1_ce_day_y, h1n1_ce_day_ell),
                 ("Month", h1n1_ce_month_x, h1n1_ce_month_y, h1n1_ce_month_ell)],
         xticks=h1n1_ce_xticks, yticks=h1n1_ce_yticks,
         xlim=(-25281.6, -25174.4), ylim=(-409.7, -188.6), col=0, row=1),
    dict(strip=("SARS \u2212 CoV \u2212 2", "Coalescent Exponential"), italic=False,
         series=[("Day", sars_ce_day_x, sars_ce_day_y, sars_ce_day_ell),
                 ("Month", sars_ce_month_x, sars_ce_month_y, sars_ce_month_ell)],
         xticks=sars_ce_xticks, yticks=sars_ce_yticks,
         xlim=(-40697.3, -40670.5), ylim=(-604.0, 379.0), col=1, row=1),
    dict(strip=("M. tuberculosis", "Birth Death"), italic=True,
         series=[("Day", mtb_bd_day_x, mtb_bd_day_y, mtb_bd_day_ell),
                 ("Month", mtb_bd_month_x, mtb_bd_month_y, mtb_bd_month_ell),
                 ("Year", mtb_bd_year_x, mtb_bd_year_y, mtb_bd_year_ell)],
         xticks=mtb_bd_xticks, yticks=mtb_bd_yticks,
         xlim=(-6013040.5, -6013005.7), ylim=(-191.95, -130.9), col=2, row=1),
]

COLS = [(81, 406), (456, 781), (830, 1155)]
ROWS = [dict(strip=(13, 72), plot=(72, 291), t1=0.745, t2=0.254),
        dict(strip=(317, 378), plot=(378, 598), t1=0.72, t2=0.267)]

POINT_ALPHA = 0.3
POINT_SIZE = 58


def rect(left, top, right, bottom):
    return [left / W, 1 - bottom / H, (right - left) / W, (bottom - top) / H]


def fmt(v):
    return str(v).replace("-", "\u2212")


def draw_ellipse(ax, params, color):
    cx, cy, hx, hy, r = params
    cov = np.array([[hx * hx, r * hx * hy], [r * hx * hy, hy * hy]])
    vals, vecs = np.linalg.eigh(cov)
    major = vecs[:, 1]
    angle = np.degrees(np.arctan2(major[1], major[0]))
    ax.add_patch(Ellipse((cx, cy), 2 * np.sqrt(vals[1]), 2 * np.sqrt(vals[0]),
                         angle=angle, fill=False, edgecolor=color,
                         linewidth=0.85, zorder=5))


fig = plt.figure(figsize=(W / DPI, H / DPI), dpi=DPI)
fig.patch.set_facecolor("white")

for p in panels:
    l, r_ = COLS[p["col"]]
    row = ROWS[p["row"]]
    pt, pb = row["plot"]
    st, sb = row["strip"]

    ax = fig.add_axes(rect(l, pt, r_, pb))
    ax.set_facecolor("#EBEBEB")
    for s in ax.spines.values():
        s.set_visible(False)

    xt, yt = p["xticks"], p["yticks"]
    dx = xt[1] - xt[0]
    dy = yt[1] - yt[0]
    ax.set_xticks(xt)
    ax.set_xticklabels([fmt(v) for v in xt])
    ax.set_yticks(yt)
    ax.set_yticklabels([fmt(v) for v in yt])
    ax.set_xticks([xt[0] - dx / 2] + [v + dx / 2 for v in xt], minor=True)
    ax.set_yticks([yt[0] - dy / 2] + [v + dy / 2 for v in yt], minor=True)
    ax.set_xlim(*p["xlim"])
    ax.set_ylim(*p["ylim"])
    ax.grid(which="major", color="white", linewidth=1.1)
    ax.grid(which="minor", color="white", linewidth=0.55)
    ax.set_axisbelow(True)
    ax.tick_params(which="major", length=3.2, width=0.8, color="#333333",
                   labelsize=12, labelcolor="#4D4D4D", pad=2.2)
    ax.tick_params(which="minor", length=0)

    for g, xs, ys, _ in p["series"]:
        ax.scatter(xs, ys, s=POINT_SIZE, c=group_colors[g], alpha=POINT_ALPHA,
                   linewidths=0, zorder=2)
    for g, _, _, ell in p["series"]:
        draw_ellipse(ax, ell, group_colors[g])

    sax = fig.add_axes(rect(l, st, r_, sb))
    sax.set_facecolor("#D9D9D9")
    sax.set_xticks([])
    sax.set_yticks([])
    for s in sax.spines.values():
        s.set_visible(False)
    sax.text(0.5, row["t1"], p["strip"][0], ha="center", va="center",
             fontsize=12.5, color="#1A1A1A",
             fontstyle="italic" if p["italic"] else "normal",
             transform=sax.transAxes)
    sax.text(0.5, row["t2"], p["strip"][1], ha="center", va="center",
             fontsize=12.5, color="#1A1A1A", transform=sax.transAxes)

fig.text(618 / W, 1 - 631 / H, x_title, ha="center", va="center",
         fontsize=16, color="black")
fig.text(21 / W, 1 - 335 / H, y_title, ha="center", va="center",
         fontsize=16, color="black", rotation=90)

# legend (drawn in figure pixel space)
lax = fig.add_axes([0, 0, 1, 1], zorder=10)
lax.set_xlim(0, W)
lax.set_ylim(H, 0)
lax.axis("off")
key_left = {"Day": 523, "Month": 580, "Year": 656}
text_left = {"Day": 544, "Month": 601, "Year": 677}
key_top, key_size = 659, 17
for g in groups:
    kx = key_left[g]
    lax.add_patch(Rectangle((kx, key_top), key_size, key_size,
                            facecolor="#EBEBEB", edgecolor="none"))
    cy_ = key_top + key_size / 2
    lax.scatter([kx + key_size / 2], [cy_], s=POINT_SIZE, c=group_colors[g],
                alpha=POINT_ALPHA, linewidths=0)
    lax.plot([kx + 1.5, kx + key_size - 1.5], [cy_, cy_],
             color=group_colors[g], linewidth=0.85)
    lax.text(text_left[g], cy_, g, ha="left", va="center",
             fontsize=12.5, color="black")

fig.savefig("out.png", dpi=DPI)
